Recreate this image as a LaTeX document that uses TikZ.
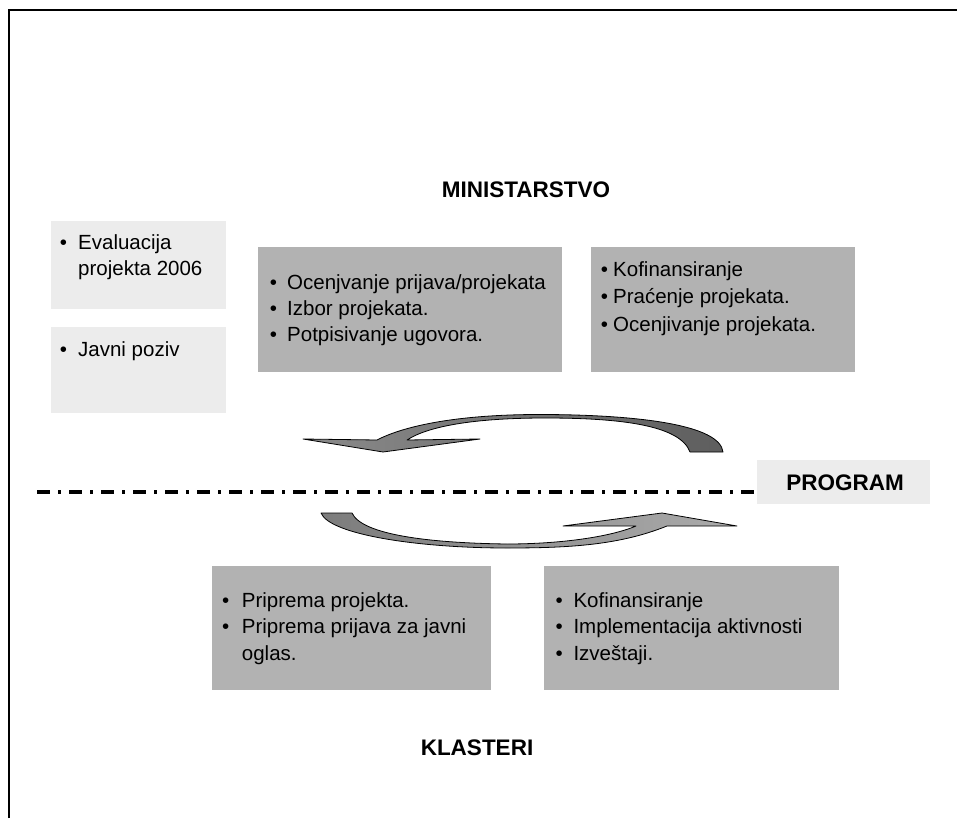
\documentclass[tikz,border=0pt]{standalone}
\usepackage{fontspec}
\setmainfont{Liberation Sans}
\definecolor{boxlight}{HTML}{ECECEC}
\definecolor{boxdark}{HTML}{B2B2B2}
\definecolor{arrowmid}{HTML}{8A8A8A}
\definecolor{arrowdeep}{HTML}{5E5E5E}
\definecolor{arrowpale}{HTML}{ABABAB}
% bullet set in a box of the given width
\newcommand\bul[1]{\makebox[#1][l]{\textbullet}}
\tikzset{
  panel/.style={inner sep=0pt, outer sep=0pt, anchor=north west},
  lightpanel/.style={panel, fill=boxlight},
  darkpanel/.style={panel, fill=boxdark},
  itemtext/.style={inner sep=0pt, anchor=base west, font=\fontsize{20.5}{26}\selectfont},
  heading/.style={inner sep=0pt, font=\bfseries\fontsize{22.5}{26}\selectfont},
  cyclearrow/.style={draw=black, line width=0.8pt, line join=round},
}
\begin{document}
\begin{tikzpicture}[x=1pt, y=-1pt]
  \useasboundingbox (0,0) rectangle (957,818);

  % frame
  \coordinate (fl) at (9,818);
  \coordinate (fc) at (9,10);
  \coordinate (fr) at (957,10);
  \draw[line width=2.5pt] (fl) -- (fc) -- (fr);

  % headings
  \node[heading] (ministry) at (526,190) {MINISTARSTVO};
  \node[heading] (clusters) at (477,748) {KLASTERI};

  % left column
  \node[lightpanel, minimum width=175pt, minimum height=88pt] (evalbox) at (51,221) {};
  \node[itemtext] (evaltext) at (59.7,249)
    {\parbox[t]{170pt}{\bul{18.3pt}Evaluacija\\\hspace*{18.3pt}projekta 2006}};
  \node[lightpanel, minimum width=175pt, minimum height=86pt] (callbox) at (51,327) {};
  \node[itemtext] (calltext) at (59.7,356)
    {\parbox[t]{170pt}{\bul{18.3pt}Javni poziv}};

  % ministry tasks
  \node[darkpanel, minimum width=304pt, minimum height=125pt] (selectbox) at (258,247) {};
  \node[itemtext] (selecttext) at (269.7,289)
    {\parbox[t]{290pt}{\bul{17.3pt}Ocenjvanje prijava/projekata\\
      \bul{17.3pt}Izbor projekata.\\
      \bul{17.3pt}Potpisivanje ugovora.}};
  \node[darkpanel, minimum width=264pt, minimum height=125pt] (fundbox) at (591,247) {};
  \node[itemtext, font=\fontsize{20.5}{27.5}\selectfont] (fundtext) at (600.7,276)
    {\parbox[t]{250pt}{\bul{12.3pt}Kofinansiranje\\
      \bul{12.3pt}Praćenje projekata.\\
      \bul{12.3pt}Ocenjivanje projekata.}};

  % cluster tasks
  \node[darkpanel, minimum width=279pt, minimum height=124pt] (prepbox) at (212,566) {};
  \node[itemtext, font=\fontsize{20.5}{26.5}\selectfont] (preptext) at (222,607)
    {\parbox[t]{265pt}{\bul{19.7pt}Priprema projekta.\\
      \bul{19.7pt}Priprema prijava za javni\\
      \hspace*{19.7pt}oglas.}};
  \node[darkpanel, minimum width=295pt, minimum height=124pt] (implbox) at (544,566) {};
  \node[itemtext, font=\fontsize{20.5}{26.5}\selectfont] (impltext) at (555.5,607)
    {\parbox[t]{280pt}{\bul{17.8pt}Kofinansiranje\\
      \bul{17.8pt}Implementacija aktivnosti\\
      \bul{17.8pt}Izveštaji.}};

  % program divider
  \node[lightpanel, minimum width=173pt, minimum height=44pt] (progbox) at (757,460) {};
  \node[heading] (progtext) at (845,483) {PROGRAM};
  \coordinate (divstart) at (37,492);
  \coordinate (divend) at (755,492);
  \draw[line width=3.5pt, dash pattern=on 13pt off 8pt on 3pt off 8pt] (divstart) -- (divend);

  % upper cycle arrow, heading left
  \path[cyclearrow, left color=arrowmid, right color=arrowdeep]
    (383,452) -- (480,439) -- (407,440)
    .. controls (430,425) and (480,418) .. (545,418)
    .. controls (620,418) and (680,425) .. (690,452)
    -- (723,452)
    .. controls (720,425) and (640,415) .. (545,414.5)
    .. controls (450,414) and (400,428) .. (377,440)
    -- (303,439) -- cycle;

  % lower cycle arrow, heading right
  \path[cyclearrow, left color=arrowmid!90!black, right color=arrowpale]
    (662,513) -- (737,526) -- (667,526)
    .. controls (620,545) and (570,548) .. (507,548)
    .. controls (420,548) and (330,535) .. (321,513)
    -- (352,513)
    .. controls (362,535) and (430,543) .. (507,544)
    .. controls (560,544) and (610,537) .. (636,526)
    -- (563,526) -- cycle;
\end{tikzpicture}
\end{document}
